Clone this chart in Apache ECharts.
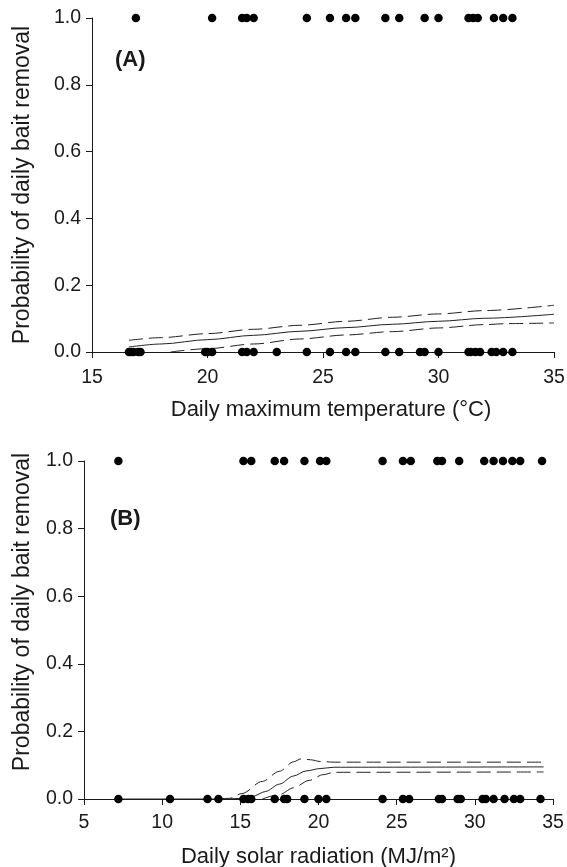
<!DOCTYPE html>
<html>
<head>
<meta charset="utf-8">
<script src="https://cdn.jsdelivr.net/npm/echarts@6/dist/echarts.min.js"></script>
<style>
  html, body { margin: 0; padding: 0; background: #fff; }
  #chart { width: 567px; height: 867px; }
</style>
</head>
<body>
<div id="chart"></div>
<script>
// panel A: daily max temperature (°C)
const tempRemoved = [16.9, 20.2, 21.5, 21.7, 22.0, 24.3, 25.3, 26.0, 26.4, 27.7, 28.3, 29.4, 30.0, 31.3, 31.5, 31.7, 32.4, 32.8, 33.2];
const tempNotRemoved = [16.6, 16.7, 16.8, 17.0, 17.1, 19.9, 20.0, 20.2, 21.5, 21.7, 22.0, 23.0, 24.3, 25.3, 26.0, 26.4, 27.7, 28.3, 29.2, 29.4, 30.0, 31.3, 31.4, 31.6, 31.8, 32.3, 32.5, 32.8, 33.2];
const tempFitX = [16.6, 18, 20, 22, 24, 26, 28, 30, 32, 35];
const tempFit = [0.015, 0.024, 0.037, 0.050, 0.062, 0.073, 0.083, 0.092, 0.101, 0.113];
const tempUpper = [0.035, 0.043, 0.055, 0.068, 0.080, 0.092, 0.104, 0.114, 0.124, 0.140];
const tempLowerX = [18.4, 20, 22, 24, 26, 28, 30, 32, 33, 35];
const tempLower = [0, 0.010, 0.024, 0.039, 0.051, 0.061, 0.072, 0.082, 0.085, 0.087];

// panel B: daily solar radiation (MJ/m2)
const solarRemoved = [7.2, 15.2, 15.7, 17.2, 17.8, 19.1, 20.1, 20.5, 24.1, 25.4, 25.9, 27.6, 27.9, 29.0, 30.6, 31.2, 31.8, 32.4, 32.9, 34.3];
const solarNotRemoved = [7.2, 10.5, 12.9, 13.6, 15.2, 15.5, 15.7, 17.2, 17.8, 18.0, 19.1, 20.0, 20.5, 24.1, 25.4, 25.8, 27.7, 27.9, 28.9, 29.1, 30.5, 30.7, 31.2, 31.9, 32.5, 32.9, 34.2];
const solarFitX = [7.2, 14.2, 15.0, 15.8, 16.6, 17.5, 18.4, 19.2, 20.1, 21.0, 34.4];
const solarFit = [0, 0, 0.002, 0.008, 0.022, 0.044, 0.068, 0.083, 0.090, 0.094, 0.095];
const solarUpperX = [13.6, 14.3, 15.1, 16.4, 17.5, 18.4, 18.9, 19.5, 20.1, 21.0, 34.4];
const solarUpper = [0, 0.002, 0.016, 0.052, 0.082, 0.110, 0.119, 0.116, 0.111, 0.109, 0.109];
const solarLowerX = [16.4, 17.5, 18.4, 19.4, 20.3, 21.0, 34.4];
const solarLower = [0, 0.013, 0.033, 0.055, 0.072, 0.079, 0.080];

const yTicks = [0, 0.2, 0.4, 0.6, 0.8, 1.0];

const FONT = "'Liberation Sans', Arial, sans-serif";
const INK = '#1a1a1a';

const pairs = (xs, ys) => xs.map((x, i) => [x, ys[i]]);
const atY = (xs, y) => xs.map(x => [x, y]);

function xAxisOf(idx, min, name, nameOffset, labelMargin) {
    return {
        type: 'value', gridIndex: idx, min: min, max: 35, interval: 5,
        name: name, nameLocation: 'middle', nameGap: 47,
        nameTextStyle: { fontFamily: FONT, fontSize: 22, color: INK, padding: [0, 0, 0, nameOffset] },
        axisLine: { show: true, onZero: false, lineStyle: { color: INK, width: 1 } },
        axisTick: { show: true, length: 6, lineStyle: { color: INK } },
        axisLabel: { fontFamily: FONT, fontSize: 19.5, color: INK, margin: labelMargin },
        splitLine: { show: false }
    };
}

function yAxisOf(idx, namePad) {
    return {
        type: 'value', gridIndex: idx, min: 0, max: 1, interval: 0.2,
        name: 'Probability of daily bait removal', nameLocation: 'middle', nameRotate: 90,
        nameGap: idx === 0 ? 58 : 50,
        nameTextStyle: { fontFamily: FONT, fontSize: 23, color: INK, padding: [0, 0, 0, namePad] },
        axisLine: { show: true, lineStyle: { color: INK, width: 1 } },
        axisTick: { show: true, length: 6, lineStyle: { color: INK } },
        axisLabel: {
            fontFamily: FONT, fontSize: 19.5, color: INK, margin: 11,
            formatter: v => yTicks.includes(+v.toFixed(1)) ? v.toFixed(1) : ''
        },
        splitLine: { show: false }
    };
}

function dots(idx, data) {
    return {
        type: 'scatter', xAxisIndex: idx, yAxisIndex: idx, data: data,
        symbol: 'circle', symbolSize: 8.5, clip: false,
        itemStyle: { color: '#000', opacity: 1 }, z: 3
    };
}

function curve(idx, data, dashed) {
    return {
        type: 'line', xAxisIndex: idx, yAxisIndex: idx, data: data,
        showSymbol: false, smooth: 0.3, smoothMonotone: 'x',
        lineStyle: { color: '#222', width: 1, type: dashed ? [14, 6] : 'solid' }, z: 2
    };
}

const chart = echarts.init(document.getElementById('chart'));

const option = {
    backgroundColor: '#fff',
    animation: false,
    title: [
        { text: '(A)', left: 115, top: 49, padding: 0, textStyle: { fontFamily: FONT, fontSize: 22, fontWeight: 'bold', color: INK } },
        { text: '(B)', left: 110, top: 508, padding: 0, textStyle: { fontFamily: FONT, fontSize: 22, fontWeight: 'bold', color: INK } }
    ],
    grid: [
        { left: 92, top: 18, width: 462, height: 334, outerBoundsMode: 'none' },
        { left: 84, top: 461, width: 469, height: 338, outerBoundsMode: 'none' }
    ],
    xAxis: [
        xAxisOf(0, 15, 'Daily maximum temperature (°C)', 16, 16),
        xAxisOf(1, 5, 'Daily solar radiation (MJ/m²)', 0, 14)
    ],
    yAxis: [yAxisOf(0, 0), yAxisOf(1, 36)],
    series: [
        curve(0, pairs(tempFitX, tempFit), false),
        curve(0, pairs(tempFitX, tempUpper), true),
        curve(0, pairs(tempLowerX, tempLower), true),
        dots(0, atY(tempRemoved, 1)),
        dots(0, atY(tempNotRemoved, 0)),
        curve(1, pairs(solarFitX, solarFit), false),
        curve(1, pairs(solarUpperX, solarUpper), true),
        curve(1, pairs(solarLowerX, solarLower), true),
        dots(1, atY(solarRemoved, 1)),
        dots(1, atY(solarNotRemoved, 0))
    ]
};

chart.setOption(option);
</script>
</body>
</html>
